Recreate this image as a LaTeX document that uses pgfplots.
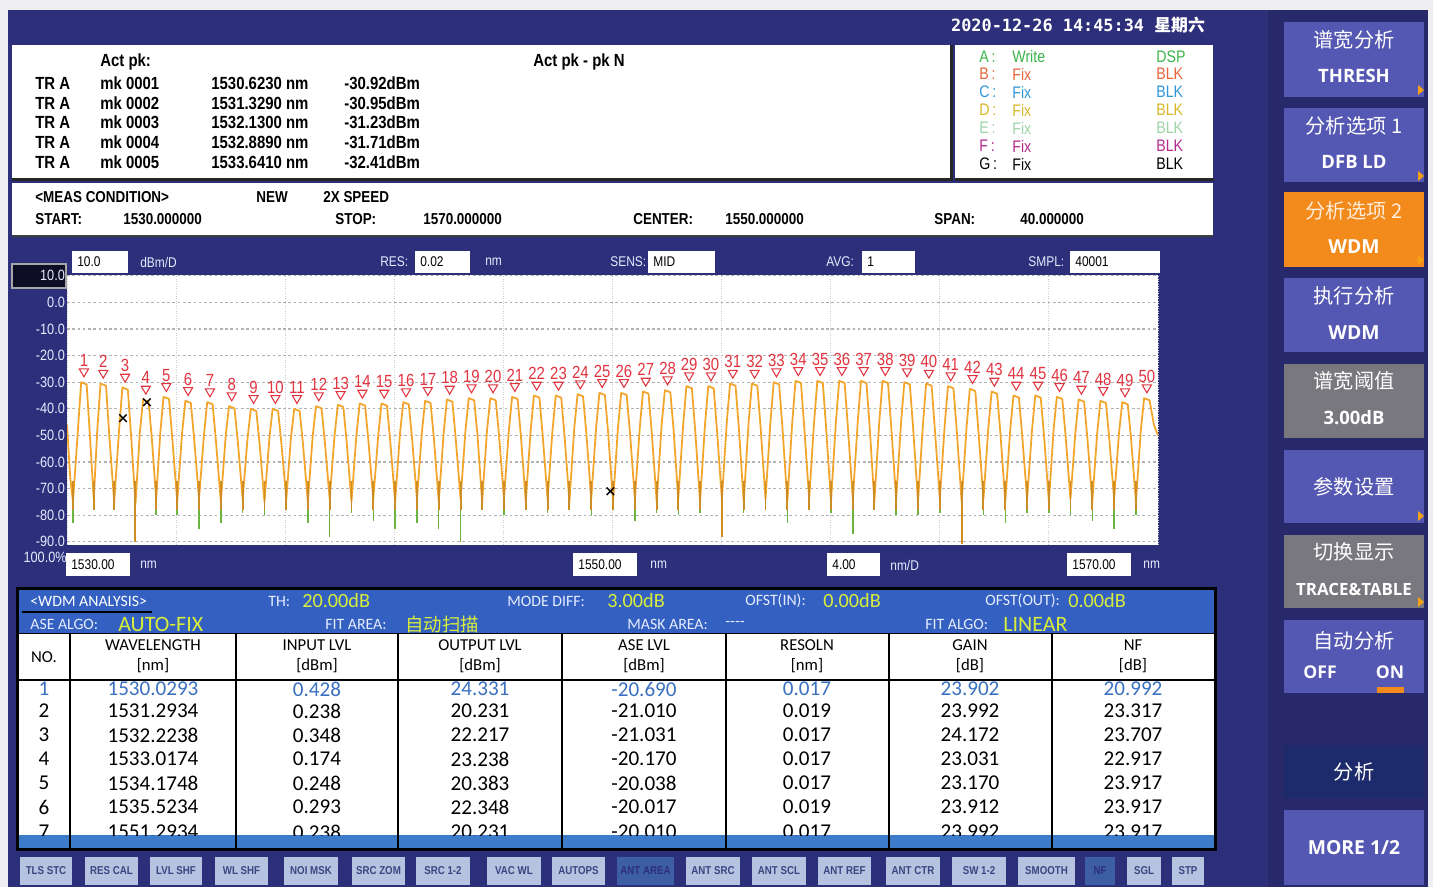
\documentclass[border=0pt]{standalone}
\usepackage{pgfplots}
\pgfplotsset{compat=1.18}
\usepackage{fontspec}
\setmainfont{Carlito}
\newfontfamily\nar[FakeStretch=0.85]{Liberation Sans}
\newfontfamily\cjk{Noto Sans CJK SC}
\newfontfamily\mono{DejaVu Sans Mono}
\newfontfamily\osans{Open Sans}
\newcommand\fs[1]{\fontsize{#1}{#1}\selectfont}
\definecolor{bggray}{HTML}{EEEEF0}
\definecolor{navy}{HTML}{2D2F7A}
\definecolor{navyR}{HTML}{27296B}
\definecolor{btn}{HTML}{5558B3}
\definecolor{btnG}{HTML}{78787E}
\definecolor{btnO}{HTML}{F28A1C}
\definecolor{btnD}{HTML}{1D2A6C}
\definecolor{band}{HTML}{3461C1}
\definecolor{selbar}{HTML}{3D7CCB}
\definecolor{bbtn}{HTML}{B5C2E0}
\definecolor{bbtnD}{HTML}{3D5EA5}
\definecolor{bbtxt}{HTML}{3A4680}
\definecolor{yel}{HTML}{D9EE3A}
\definecolor{lbl}{HTML}{E6ECFF}
\definecolor{trace}{HTML}{F2A52A}
\definecolor{tgreen}{HTML}{6DB33F}
\definecolor{mkred}{HTML}{E2343F}
\definecolor{rowblue}{HTML}{3A70C0}
\definecolor{lgA}{HTML}{3CB54A}
\definecolor{lgB}{HTML}{E8643C}
\definecolor{lgC}{HTML}{2F96D8}
\definecolor{lgD}{HTML}{D9B72A}
\definecolor{lgE}{HTML}{9ED4A8}
\definecolor{lgF}{HTML}{B42A8A}
\begin{document}
\begin{tikzpicture}
\begin{scope}[x=0.2mm,y=-0.2mm]
\path[use as bounding box] (0,0) rectangle (1433,887);
\fill[bggray] (0,0) rectangle (1433,887);
\fill[navy] (8,10) rectangle (1428,887);
\fill[navyR] (1268,10) rectangle (1428,887);
% date
\node[text=white, font=\mono\bfseries\fs{9.6}] at (1078,25) {2020-12-26 14:45:34 {\cjk 星期六}};
% marker panel
\fill[white] (12,45) rectangle (950,178);
\draw[black!85, line width=0.6mm] (12,179) -- (951,179) -- (951,45);
\fill[white] (955,45) rectangle (1213,178);
\draw[black!85, line width=0.6mm] (955,179) -- (1214,179);
\begin{scope}[every node/.style={font=\nar\bfseries\fs{10}, inner sep=0pt, anchor=west}]
\node at (100,62) {Act pk:};
\node at (533,62) {Act pk - pk N};
\foreach \y/\m/\w/\d in {83/0001/1530.6230/-30.92, 103/0002/1531.3290/-30.95, 122/0003/1532.1300/-31.23, 142/0004/1532.8890/-31.71, 162/0005/1533.6410/-32.41}{
  \node at (35,\y) {TR A};
  \node at (100,\y) {mk \m};
  \node at (211,\y) {\w\ nm};
  \node at (344,\y) {\d dBm};
}
\end{scope}
\begin{scope}[every node/.style={font=\nar\fs{9.5}, inner sep=0pt, anchor=west}]
\foreach \y/\l/\s/\b/\c in {57/A/Write/DSP/lgA, 74/B/Fix/BLK/lgB, 92/C/Fix/BLK/lgC, 110/D/Fix/BLK/lgD, 128/E/Fix/BLK/lgE, 146/F/Fix/BLK/lgF, 164/G/Fix/BLK/black}{
  \node[text=\c] at (979,\y) {\l\,:};
  \node[text=\c] at (1012,\y) {\s};
  \node[text=\c] at (1156,\y) {\b};
}
\end{scope}
% meas condition
\fill[white] (12,183) rectangle (1213,235);
\draw[black!75, line width=0.4mm] (12,236) -- (1213,236);
\begin{scope}[every node/.style={font=\nar\bfseries\fs{9}, inner sep=0pt, anchor=west}]
\node at (35,197) {<MEAS CONDITION>};
\node at (256,197) {NEW};
\node at (323,197) {2X SPEED};
\node at (35,219) {START:};
\node at (123,219) {1530.000000};
\node at (335,219) {STOP:};
\node at (423,219) {1570.000000};
\node at (633,219) {CENTER:};
\node at (725,219) {1550.000000};
\node at (934,219) {SPAN:};
\node at (1020,219) {40.000000};
\end{scope}
% field rows
\begin{scope}[every node/.style={font=\nar\fs{8}, inner sep=0pt, anchor=west}]
\foreach \a/\b/\t in {72/128/10.0, 415/470/0.02, 648/715/MID, 862/915/1, 1070/1160/40001}{
  \fill[white] (\a,251) rectangle (\b,273);
  \node at (\a+5,262) {\t};
}
\foreach \x/\t in {140/{dBm/D}, 380/RES:, 485/nm, 610/SENS:, 826/AVG:, 1028/SMPL:}{
  \node[text=lbl] at (\x,262) {\t};
}
\foreach \a/\b/\t in {66/130/1530.00, 573/637/1550.00, 827/880/4.00, 1067/1131/1570.00}{
  \fill[white] (\a,553) rectangle (\b,576);
  \node at (\a+5,565) {\t};
}
\foreach \x/\t in {140/nm, 650/nm, 890/{nm/D}, 1143/nm}{
  \node[text=lbl] at (\x,565) {\t};
}
\end{scope}
\filldraw[fill=black!70!navy, draw=gray!70, line width=0.3mm] (12,264) rectangle (66,288);
\end{scope}

\begin{axis}[
  at={(13.4mm,-109mm)}, anchor=south west,
  width=218.2mm, height=54mm, scale only axis,
  xmin=1530, xmax=1570, ymin=-91.2, ymax=10.3,
  axis line style={draw=none},
  axis background/.style={fill=white},
  xtick={1530,1534,...,1570}, xticklabels={},
  ytick={-90,-80,...,10},
  yticklabels={-90.0,-80.0,-70.0,-60.0,-50.0,-40.0,-30.0,-20.0,-10.0,0.0,10.0},
  yticklabel style={font=\nar\fs{8.5}, text=lbl, inner sep=1pt},
  major tick length=0pt,
  xmajorgrids, ymajorgrids,
  x grid style={gray!40, densely dotted, line width=0.5pt},
  y grid style={gray!60, dash pattern=on 1.5pt off 1.5pt, line width=0.6pt},
  unbounded coords=jump,
]
% green spikes
\addplot[tgreen, line width=0.8pt] coordinates {
(1530.22,-70) (1530.22,-83) (1530.22,nan) (1530.98,-70) (1530.98,-77) (1530.98,nan)
(1531.73,-70) (1531.73,-78) (1531.73,nan) (1532.51,-70) (1532.51,-80) (1532.51,nan)
(1533.27,-70) (1533.27,-80) (1533.27,nan) (1534.04,-70) (1534.04,-80) (1534.04,nan)
(1534.84,-70) (1534.84,-85) (1534.84,nan) (1535.64,-70) (1535.64,-83) (1535.64,nan)
(1536.44,-70) (1536.44,-79) (1536.44,nan) (1537.24,-70) (1537.24,-80) (1537.24,nan)
(1538.04,-70) (1538.04,-78) (1538.04,nan) (1538.83,-70) (1538.83,-83) (1538.83,nan)
(1539.63,-70) (1539.63,-88) (1539.63,nan) (1540.43,-70) (1540.43,-79) (1540.43,nan)
(1541.23,-70) (1541.23,-82) (1541.23,nan) (1542.03,-70) (1542.03,-85) (1542.03,nan)
(1542.83,-70) (1542.83,-83) (1542.83,nan) (1543.63,-70) (1543.63,-85) (1543.63,nan)
(1544.43,-70) (1544.43,-90) (1544.43,nan) (1545.22,-70) (1545.22,-78) (1545.22,nan)
(1546.02,-70) (1546.02,-80) (1546.02,nan) (1546.82,-70) (1546.82,-77) (1546.82,nan)
(1547.62,-70) (1547.62,-79) (1547.62,nan) (1548.42,-70) (1548.42,-78) (1548.42,nan)
(1549.22,-70) (1549.22,-80) (1549.22,nan) (1550.02,-70) (1550.02,-78) (1550.02,nan)
(1550.82,-70) (1550.82,-82) (1550.82,nan) (1551.62,-70) (1551.62,-79) (1551.62,nan)
(1552.41,-70) (1552.41,-80) (1552.41,nan) (1553.21,-70) (1553.21,-79) (1553.21,nan)
(1554.01,-70) (1554.01,-78) (1554.01,nan) (1554.81,-70) (1554.81,-79) (1554.81,nan)
(1555.61,-70) (1555.61,-78) (1555.61,nan) (1556.41,-70) (1556.41,-83) (1556.41,nan)
(1557.21,-70) (1557.21,-78) (1557.21,nan) (1558.01,-70) (1558.01,-79) (1558.01,nan)
(1558.81,-70) (1558.81,-87) (1558.81,nan) (1559.60,-70) (1559.60,-78) (1559.60,nan)
(1560.40,-70) (1560.40,-80) (1560.40,nan) (1561.20,-70) (1561.20,-80) (1561.20,nan)
(1562.00,-70) (1562.00,-79) (1562.00,nan) (1562.80,-70) (1562.80,-80) (1562.80,nan)
(1563.60,-70) (1563.60,-80) (1563.60,nan) (1564.40,-70) (1564.40,-83) (1564.40,nan)
(1565.20,-70) (1565.20,-79) (1565.20,nan) (1566.00,-70) (1566.00,-79) (1566.00,nan)
(1566.79,-70) (1566.79,-80) (1566.79,nan) (1567.59,-70) (1567.59,-82) (1567.59,nan)
(1568.39,-70) (1568.39,-85) (1568.39,nan) (1569.19,-70) (1569.19,-80) (1569.19,nan)
};
% main trace
\addplot[trace, line width=1.0pt, line join=round] coordinates {
(1530.00,-46) (1530.12,-66)
(1530.22,-75) (1530.40,-48) (1530.52,-30.0) (1530.72,-30.8) (1530.84,-50)
(1530.98,-74) (1531.11,-48) (1531.23,-30.5) (1531.43,-31.3) (1531.55,-50)
(1531.73,-75) (1531.91,-48) (1532.03,-32.0) (1532.23,-32.8) (1532.35,-50)
(1532.51,-76) (1532.67,-49) (1532.79,-36.5) (1532.99,-37.3) (1533.11,-51)
(1533.27,-74) (1533.42,-49) (1533.54,-35.5) (1533.74,-36.3) (1533.86,-51)
(1534.04,-75) (1534.22,-49) (1534.34,-37.0) (1534.54,-37.8) (1534.66,-51)
(1534.84,-74) (1535.02,-50) (1535.14,-37.5) (1535.34,-38.3) (1535.46,-52)
(1535.64,-75) (1535.82,-50) (1535.94,-39.0) (1536.14,-39.8) (1536.26,-52)
(1536.44,-74) (1536.62,-51) (1536.74,-40.0) (1536.94,-40.8) (1537.06,-53)
(1537.24,-75) (1537.42,-51) (1537.54,-40.0) (1537.74,-40.8) (1537.86,-53)
(1538.04,-74) (1538.21,-51) (1538.33,-40.0) (1538.53,-40.8) (1538.65,-53)
(1538.83,-75) (1539.01,-50) (1539.13,-39.0) (1539.33,-39.8) (1539.45,-52)
(1539.63,-74) (1539.81,-50) (1539.93,-38.5) (1540.13,-39.3) (1540.25,-52)
(1540.43,-75) (1540.61,-50) (1540.73,-38.0) (1540.93,-38.8) (1541.05,-52)
(1541.23,-74) (1541.41,-50) (1541.53,-38.0) (1541.73,-38.8) (1541.85,-52)
(1542.03,-75) (1542.21,-49) (1542.33,-37.5) (1542.53,-38.3) (1542.65,-51)
(1542.83,-74) (1543.01,-49) (1543.13,-37.0) (1543.33,-37.8) (1543.45,-51)
(1543.63,-75) (1543.81,-49) (1543.93,-36.5) (1544.13,-37.3) (1544.25,-51)
(1544.43,-74) (1544.61,-48) (1544.73,-36.0) (1544.93,-36.8) (1545.05,-50)
(1545.22,-75) (1545.40,-48) (1545.52,-36.0) (1545.72,-36.8) (1545.84,-50)
(1546.02,-74) (1546.20,-48) (1546.32,-35.5) (1546.52,-36.3) (1546.64,-50)
(1546.82,-75) (1547.00,-48) (1547.12,-35.0) (1547.32,-35.8) (1547.44,-50)
(1547.62,-74) (1547.80,-48) (1547.92,-35.0) (1548.12,-35.8) (1548.24,-50)
(1548.42,-75) (1548.60,-47) (1548.72,-34.5) (1548.92,-35.3) (1549.04,-49)
(1549.22,-74) (1549.40,-47) (1549.52,-34.0) (1549.72,-34.8) (1549.84,-49)
(1550.02,-75) (1550.20,-47) (1550.32,-34.0) (1550.52,-34.8) (1550.64,-49)
(1550.82,-74) (1551.00,-47) (1551.12,-33.5) (1551.32,-34.3) (1551.44,-49)
(1551.62,-75) (1551.80,-46) (1551.92,-33.0) (1552.12,-33.8) (1552.24,-48)
(1552.41,-74) (1552.59,-46) (1552.71,-31.5) (1552.91,-32.3) (1553.03,-48)
(1553.21,-75) (1553.39,-46) (1553.51,-31.5) (1553.71,-32.3) (1553.83,-48)
(1554.01,-74) (1554.19,-45) (1554.31,-30.5) (1554.51,-31.3) (1554.63,-47)
(1554.81,-75) (1554.99,-45) (1555.11,-30.5) (1555.31,-31.3) (1555.43,-47)
(1555.61,-74) (1555.79,-45) (1555.91,-30.0) (1556.11,-30.8) (1556.23,-47)
(1556.41,-75) (1556.59,-45) (1556.71,-29.5) (1556.91,-30.3) (1557.03,-47)
(1557.21,-74) (1557.39,-45) (1557.51,-29.5) (1557.71,-30.3) (1557.83,-47)
(1558.01,-75) (1558.19,-45) (1558.31,-29.5) (1558.51,-30.3) (1558.63,-47)
(1558.81,-74) (1558.99,-45) (1559.11,-29.5) (1559.31,-30.3) (1559.43,-47)
(1559.60,-75) (1559.78,-45) (1559.90,-29.5) (1560.10,-30.3) (1560.22,-47)
(1560.40,-74) (1560.58,-45) (1560.70,-30.0) (1560.90,-30.8) (1561.02,-47)
(1561.20,-75) (1561.38,-46) (1561.50,-30.5) (1561.70,-31.3) (1561.82,-48)
(1562.00,-74) (1562.18,-46) (1562.30,-31.5) (1562.50,-32.3) (1562.62,-48)
(1562.80,-75) (1562.98,-47) (1563.10,-32.5) (1563.30,-33.3) (1563.42,-49)
(1563.60,-74) (1563.78,-47) (1563.90,-33.5) (1564.10,-34.3) (1564.22,-49)
(1564.40,-75) (1564.58,-48) (1564.70,-35.0) (1564.90,-35.8) (1565.02,-50)
(1565.20,-74) (1565.38,-48) (1565.50,-35.0) (1565.70,-35.8) (1565.82,-50)
(1566.00,-75) (1566.17,-48) (1566.29,-35.5) (1566.49,-36.3) (1566.61,-50)
(1566.79,-74) (1566.97,-49) (1567.09,-36.5) (1567.29,-37.3) (1567.41,-51)
(1567.59,-75) (1567.77,-49) (1567.89,-37.0) (1568.09,-37.8) (1568.21,-51)
(1568.39,-74) (1568.57,-49) (1568.69,-37.5) (1568.89,-38.3) (1569.01,-51)
(1569.19,-75) (1569.37,-48) (1569.49,-36.0) (1569.69,-36.8) (1569.85,-46)
(1570.00,-50)
};
% orange trough clusters
\addplot[trace!85!black, line width=1.1pt] coordinates {
(1530.22,-67) (1530.22,-78) (1530.22,nan) (1530.98,-67) (1530.98,-78) (1530.98,nan)
(1531.73,-67) (1531.73,-78) (1531.73,nan) (1532.51,-67) (1532.51,-90) (1532.51,nan)
(1533.27,-67) (1533.27,-78) (1533.27,nan) (1534.04,-67) (1534.04,-78) (1534.04,nan)
(1534.84,-67) (1534.84,-78) (1534.84,nan) (1535.64,-67) (1535.64,-78) (1535.64,nan)
(1536.44,-67) (1536.44,-78) (1536.44,nan) (1537.24,-67) (1537.24,-78) (1537.24,nan)
(1538.04,-67) (1538.04,-78) (1538.04,nan) (1538.83,-67) (1538.83,-78) (1538.83,nan)
(1539.63,-67) (1539.63,-78) (1539.63,nan) (1540.43,-67) (1540.43,-78) (1540.43,nan)
(1541.23,-67) (1541.23,-78) (1541.23,nan) (1542.03,-67) (1542.03,-78) (1542.03,nan)
(1542.83,-67) (1542.83,-78) (1542.83,nan) (1543.63,-67) (1543.63,-78) (1543.63,nan)
(1544.43,-67) (1544.43,-78) (1544.43,nan) (1545.22,-67) (1545.22,-78) (1545.22,nan)
(1546.02,-67) (1546.02,-78) (1546.02,nan) (1546.82,-67) (1546.82,-78) (1546.82,nan)
(1547.62,-67) (1547.62,-78) (1547.62,nan) (1548.42,-67) (1548.42,-78) (1548.42,nan)
(1549.22,-67) (1549.22,-78) (1549.22,nan) (1550.02,-67) (1550.02,-78) (1550.02,nan)
(1550.82,-67) (1550.82,-78) (1550.82,nan) (1551.62,-67) (1551.62,-78) (1551.62,nan)
(1552.41,-67) (1552.41,-78) (1552.41,nan) (1553.21,-67) (1553.21,-78) (1553.21,nan)
(1554.01,-67) (1554.01,-88) (1554.01,nan) (1554.81,-67) (1554.81,-78) (1554.81,nan)
(1555.61,-67) (1555.61,-78) (1555.61,nan) (1556.41,-67) (1556.41,-78) (1556.41,nan)
(1557.21,-67) (1557.21,-78) (1557.21,nan) (1558.01,-67) (1558.01,-78) (1558.01,nan)
(1558.81,-67) (1558.81,-78) (1558.81,nan) (1559.60,-67) (1559.60,-78) (1559.60,nan)
(1560.40,-67) (1560.40,-78) (1560.40,nan) (1561.20,-67) (1561.20,-78) (1561.20,nan)
(1562.00,-67) (1562.00,-78) (1562.00,nan) (1562.80,-67) (1562.80,-91) (1562.80,nan)
(1563.60,-67) (1563.60,-78) (1563.60,nan) (1564.40,-67) (1564.40,-78) (1564.40,nan)
(1565.20,-67) (1565.20,-78) (1565.20,nan) (1566.00,-67) (1566.00,-78) (1566.00,nan)
(1566.79,-67) (1566.79,-78) (1566.79,nan) (1567.59,-67) (1567.59,-78) (1567.59,nan)
(1568.39,-67) (1568.39,-78) (1568.39,nan) (1569.19,-67) (1569.19,-78) (1569.19,nan)
};
% black x marks
\addplot[only marks, mark=x, mark size=3pt, black, line width=0.8pt] coordinates {(1532.05,-43.5) (1532.93,-37.5) (1549.92,-71)};
% peak markers
\addplot[only marks, mark=triangle, mark size=3pt,
  mark options={rotate=180, draw=mkred, line width=0.6pt},
  nodes near coords, point meta=explicit symbolic,
  every node near coord/.append style={font=\nar\fs{10}, text=mkred, inner sep=0pt, yshift=2.5pt}]
coordinates {
(1530.62,-26.0)[1] (1531.33,-26.5)[2] (1532.13,-28.0)[3] (1532.89,-32.5)[4] (1533.64,-31.5)[5]
(1534.44,-33.0)[6] (1535.24,-33.5)[7] (1536.04,-35.0)[8] (1536.84,-36.0)[9] (1537.64,-36.0)[10]
(1538.43,-36.0)[11] (1539.23,-35.0)[12] (1540.03,-34.5)[13] (1540.83,-34.0)[14] (1541.63,-34.0)[15]
(1542.43,-33.5)[16] (1543.23,-33.0)[17] (1544.03,-32.5)[18] (1544.83,-32.0)[19] (1545.62,-32.0)[20]
(1546.42,-31.5)[21] (1547.22,-31.0)[22] (1548.02,-31.0)[23] (1548.82,-30.5)[24] (1549.62,-30.0)[25]
(1550.42,-30.0)[26] (1551.22,-29.5)[27] (1552.02,-29.0)[28] (1552.81,-27.5)[29] (1553.61,-27.5)[30]
(1554.41,-26.5)[31] (1555.21,-26.5)[32] (1556.01,-26.0)[33] (1556.81,-25.5)[34] (1557.61,-25.5)[35]
(1558.41,-25.5)[36] (1559.21,-25.5)[37] (1560.00,-25.5)[38] (1560.80,-26.0)[39] (1561.60,-26.5)[40]
(1562.40,-27.5)[41] (1563.20,-28.5)[42] (1564.00,-29.5)[43] (1564.80,-31.0)[44] (1565.60,-31.0)[45]
(1566.39,-31.5)[46] (1567.19,-32.5)[47] (1567.99,-33.0)[48] (1568.79,-33.5)[49] (1569.59,-32.0)[50]
};
\end{axis}

\begin{scope}[x=0.2mm,y=-0.2mm]
\fill[navy] (10,546) rectangle (66,551);
\node[anchor=east, inner sep=0pt, font=\nar\fs{8.5}, text=lbl] at (67,557) {100.0\%};
% WDM table
\fill[black] (16,587) rectangle (1217,851);
\fill[band] (19,590) rectangle (1214,633);
\fill[white] (19,634) rectangle (1214,835);
\fill[selbar] (19,835) rectangle (1214,848);
\begin{scope}[every node/.style={inner sep=0pt, anchor=west, font=\fs{9}, text=lbl}]
\node[text=white, font=\fs{9}] at (30,601) {<WDM ANALYSIS>};
\node at (268,601) {TH:};
\node at (507,601) {MODE DIFF:};
\node at (745,601) {OFST(IN):};
\node at (985,601) {OFST(OUT):};
\node at (30,624) {ASE ALGO:};
\node at (325,624) {FIT AREA:};
\node at (627,624) {MASK AREA:};
\node at (725,624) {{-}{-}{-}{-}};
\node at (925,624) {FIT ALGO:};
\node[text=yel, font=\fs{11.5}] at (302,601) {20.00dB};
\node[text=yel, font=\fs{11.5}] at (607,601) {3.00dB};
\node[text=yel, font=\fs{11.5}] at (823,601) {0.00dB};
\node[text=yel, font=\fs{11.5}] at (1068,601) {0.00dB};
\node[text=yel, font=\fs{12.5}] at (118,624) {AUTO-FIX};
\node[text=yel, font=\cjk\fs{10.5}] at (405,624) {自动扫描};
\node[text=yel, font=\fs{12.5}] at (1003,624) {LINEAR};
\end{scope}
\draw[black, line width=0.4mm] (22,612) -- (152,612);
\draw[black, line width=0.5mm] (19,680) -- (1214,680);
\foreach \x in {70,236,398,562,726,889,1052}{\draw[black, line width=0.35mm] (\x,634) -- (\x,848);}
\begin{scope}[every node/.style={inner sep=0pt, font=\fs{9.5}}]
\node at (44,657) {NO.};
\foreach \x/\a/\b in {153/WAVELENGTH/[nm], 317/INPUT LVL/[dBm], 480/OUTPUT LVL/[dBm], 644/ASE LVL/[dBm], 807/RESOLN/[nm], 970/GAIN/[dB], 1133/NF/[dB]}{
  \node at (\x,645) {\a};
  \node at (\x,666) {\b};
}
\end{scope}
\begin{scope}
\clip (19,681) rectangle (1214,835);
\begin{scope}[every node/.style={inner sep=0pt, font=\fs{12}}]
\foreach \y/\n/\wl/\ip/\op/\as/\rs/\ga/\nf/\c in {689/1/1530.0293/0.428/24.331/-20.690/0.017/23.902/20.992/rowblue, 711/2/1531.2934/0.238/20.231/-21.010/0.019/23.992/23.317/black, 735/3/1532.2238/0.348/22.217/-21.031/0.017/24.172/23.707/black, 759/4/1533.0174/0.174/23.238/-20.170/0.017/23.031/22.917/black, 783/5/1534.1748/0.248/20.383/-20.038/0.017/23.170/23.917/black, 807/6/1535.5234/0.293/22.348/-20.017/0.019/23.912/23.917/black, 832/7/1551.2934/0.238/20.231/-20.010/0.017/23.992/23.917/black}{
  \node[text=\c] at (44,\y) {\n};
  \node[text=\c] at (153,\y) {\wl};
  \node[text=\c] at (317,\y) {\ip};
  \node[text=\c] at (480,\y) {\op};
  \node[text=\c] at (644,\y) {\as};
  \node[text=\c] at (807,\y) {\rs};
  \node[text=\c] at (970,\y) {\ga};
  \node[text=\c] at (1133,\y) {\nf};
}
\end{scope}
\end{scope}
% bottom buttons
\begin{scope}[every node/.style={inner sep=0pt, font=\nar\bfseries\fs{6.5}, text=bbtxt}]
\foreach \a/\b/\t in {20/72/TLS STC, 85/138/RES CAL, 150/202/LVL SHF, 215/268/WL SHF, 284/338/NOI MSK, 352/405/SRC ZOM, 416/470/SRC 1-2, 487/541/VAC WL, 552/605/AUTOPS, 686/740/ANT SRC, 752/806/ANT SCL, 818/871/ANT REF, 886/940/ANT CTR, 952/1006/SW 1-2, 1018/1075/SMOOTH, 1127/1161/SGL, 1172/1204/STP}{
  \fill[bbtn] (\a,857) rectangle (\b,885);
  \node at ({(\a+\b)/2},871) {\t};
}
\foreach \a/\b/\t in {617/674/ANT AREA, 1085/1115/NF}{
  \fill[bbtnD] (\a,857) rectangle (\b,885);
  \node[text=navy] at ({(\a+\b)/2},871) {\t};
}
\end{scope}
% right buttons
\fill[btn] (1284,22) rectangle (1424,97);
\fill[btn] (1284,108) rectangle (1424,182);
\fill[btnO] (1284,192) rectangle (1424,267);
\fill[btn] (1284,278) rectangle (1424,352);
\fill[btnG] (1284,364) rectangle (1424,438);
\fill[btn] (1284,450) rectangle (1424,523);
\fill[btnG] (1284,535) rectangle (1424,608);
\fill[btn] (1284,620) rectangle (1424,693);
\fill[btnD] (1284,745) rectangle (1424,798);
\fill[btn] (1284,810) rectangle (1424,885);
\foreach \y in {90,176,260,516,602}{\fill[btnO!80!yellow] (1418,\y-5) -- (1424,\y) -- (1418,\y+5) -- cycle;}
\fill[btnO] (1377,687) rectangle (1404,693);
\begin{scope}[every node/.style={inner sep=0pt, text=white}]
\node[font=\cjk\fs{11.5}] at (1354,40) {谱宽分析};
\node[font=\osans\bfseries\fs{10.5}] at (1354,76) {THRESH};
\node[font=\cjk\fs{11.5}] at (1354,126) {分析选项 1};
\node[font=\osans\bfseries\fs{10.5}] at (1354,162) {DFB LD};
\node[font=\cjk\fs{11.5}, text=white!85!orange] at (1354,211) {分析选项 2};
\node[font=\osans\bfseries\fs{11}] at (1354,247) {WDM};
\node[font=\cjk\fs{11.5}] at (1354,296) {执行分析};
\node[font=\osans\bfseries\fs{11}] at (1354,333) {WDM};
\node[font=\cjk\fs{11.5}] at (1354,381) {谱宽阈值};
\node[font=\osans\bfseries\fs{10.5}] at (1354,418) {3.00dB};
\node[font=\cjk\fs{11.5}] at (1354,487) {参数设置};
\node[font=\cjk\fs{11.5}] at (1354,552) {切换显示};
\node[font=\osans\bfseries\fs{9.6}] at (1354,589) {TRACE\&TABLE};
\node[font=\cjk\fs{11.5}] at (1354,641) {自动分析};
\node[font=\osans\bfseries\fs{10}] at (1320,672) {OFF};
\node[font=\osans\bfseries\fs{10}] at (1390,672) {ON};
\node[font=\cjk\fs{11.5}] at (1354,772) {分析};
\node[font=\osans\bfseries\fs{11}] at (1354,848) {MORE 1/2};
\end{scope}
\end{scope}
\end{tikzpicture}
\end{document}
